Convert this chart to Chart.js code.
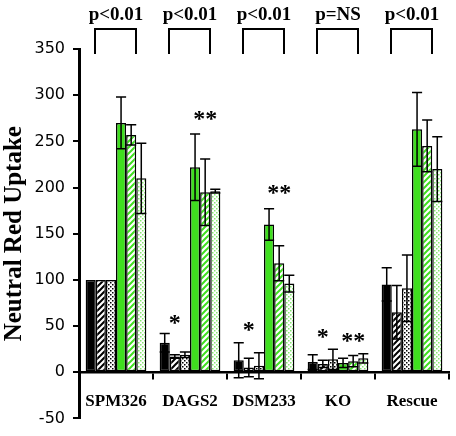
<!DOCTYPE html>
<html>
<head>
<meta charset="utf-8">
<script src="https://cdn.jsdelivr.net/npm/chart.js@4.4.0/dist/chart.umd.min.js"></script>
<style>
    html, body { margin: 0; padding: 0; background: #fff; }
    canvas { display: block; }
</style>
</head>
<body>
<canvas id="uptakeChart" width="456" height="436"></canvas>
<script>
// Data
const groups = ['SPM326', 'DAGS2', 'DSM233', 'KO', 'Rescue'];
const pLabels = ['p<0.01', 'p<0.01', 'p<0.01', 'p=NS', 'p<0.01'];

const blackSolid = [100, 32, 13, 11, 95];
const blackSolidErr = [0, 10, 19, 8, 18];
const blackHatch = [100, 17, 5, 9, 65];
const blackHatchErr = [0, 2, 10, 4, 29];
const blackDots = [100, 19, 7, 14, 91];
const blackDotsErr = [0, 3, 14, 11, 36];
const greenSolid = [270, 222, 160, 10, 263];
const greenSolidErr = [28, 36, 17, 5, 40];
const greenHatch = [257, 195, 118, 12, 245];
const greenHatchErr = [11, 36, 19, 6, 28];
const greenDots = [210, 196, 96, 15, 220];
const greenDotsErr = [38, 2, 9, 5, 35];

// significance stars: group index, bar index, text, value where drawn
const starGroup = [1, 1, 2, 2, 3, 3];
const starBar = [1.0, 4.0, 1.0, 4.0, 1.0, 4.0];
const starText = ['*', '**', '*', '**', '*', '**'];
const starValue = [57, 278, 49, 197, 42, 37];

const GREEN = '#3fdf1f';

// Fill patterns
function hatchPattern(color) {
    const c = document.createElement('canvas');
    c.width = 6; c.height = 6;
    const g = c.getContext('2d');
    g.fillStyle = '#fff';
    g.fillRect(0, 0, 6, 6);
    g.strokeStyle = color;
    g.lineWidth = 2;
    g.beginPath();
    g.moveTo(0, 6); g.lineTo(6, 0);
    g.moveTo(-3, 3); g.lineTo(3, -3);
    g.moveTo(3, 9); g.lineTo(9, 3);
    g.stroke();
    return g.createPattern(c, 'repeat');
}

function dotPattern(color) {
    const c = document.createElement('canvas');
    c.width = 4; c.height = 4;
    const g = c.getContext('2d');
    g.fillStyle = '#fff';
    g.fillRect(0, 0, 4, 4);
    g.fillStyle = color;
    g.fillRect(0, 0, 1.5, 1.5);
    g.fillRect(2, 2, 1.5, 1.5);
    return g.createPattern(c, 'repeat');
}

const series = [
    { data: blackSolid, err: blackSolidErr, fill: '#000' },
    { data: blackHatch, err: blackHatchErr, fill: hatchPattern('#000') },
    { data: blackDots, err: blackDotsErr, fill: dotPattern('#000') },
    { data: greenSolid, err: greenSolidErr, fill: GREEN },
    { data: greenHatch, err: greenHatchErr, fill: hatchPattern(GREEN) },
    { data: greenDots, err: greenDotsErr, fill: dotPattern('#86e870') }
];

// Error bars, stars, brackets and p-values
const annotations = {
    id: 'annotations',
    afterDatasetsDraw(chart) {
        const ctx = chart.ctx;
        const y = chart.scales.y;
        const x = chart.scales.x;
        ctx.save();
        ctx.strokeStyle = '#000';
        ctx.lineWidth = 1.5;

        series.forEach((s, i) => {
            const meta = chart.getDatasetMeta(i);
            meta.data.forEach((bar, j) => {
                const e = s.err[j];
                if (!e) return;
                const v = s.data[j];
                const top = y.getPixelForValue(v + e);
                const bot = y.getPixelForValue(v - e);
                const half = bar.width / 2;
                ctx.beginPath();
                ctx.moveTo(bar.x, top);
                ctx.lineTo(bar.x, bot);
                ctx.moveTo(bar.x - half, top);
                ctx.lineTo(bar.x + half, top);
                ctx.moveTo(bar.x - half, bot);
                ctx.lineTo(bar.x + half, bot);
                ctx.stroke();
            });
        });

        // stars
        ctx.fillStyle = '#000';
        ctx.font = 'bold 24px "Liberation Serif"';
        ctx.textAlign = 'center';
        ctx.textBaseline = 'middle';
        starText.forEach((t, k) => {
            const b = starBar[k];
            const meta = chart.getDatasetMeta(Math.floor(b));
            const bar = meta.data[starGroup[k]];
            const sx = bar.x + (b % 1) * bar.width;
            ctx.fillText(t, sx, y.getPixelForValue(starValue[k]) + 4);
        });

        // brackets and p-values
        const top = chart.chartArea.top;
        ctx.lineWidth = 2;
        ctx.font = 'bold 19px "Liberation Serif"';
        ctx.textBaseline = 'alphabetic';
        groups.forEach((g, i) => {
            const cx = x.getPixelForValue(i) - 1;
            ctx.beginPath();
            ctx.moveTo(cx - 20, top + 5);
            ctx.lineTo(cx - 20, top - 20);
            ctx.lineTo(cx + 21, top - 20);
            ctx.lineTo(cx + 21, top + 5);
            ctx.stroke();
            ctx.fillText(pLabels[i], cx + 1, top - 29);
        });
        ctx.restore();
    }
};

const ctx = document.getElementById('uptakeChart').getContext('2d');
const uptakeChart = new Chart(ctx, {
    type: 'bar',
    data: {
        labels: groups,
        datasets: series.map(s => ({
            data: s.data,
            backgroundColor: s.fill,
            borderColor: '#000',
            borderWidth: 1.5,
            borderSkipped: false,
            categoryPercentage: 0.82,
            barPercentage: 1.0
        }))
    },
    options: {
        responsive: false,
        animation: false,
        layout: { padding: { top: 49, right: 7, bottom: 15, left: 0 } },
        plugins: {
            legend: { display: false },
            tooltip: { enabled: false }
        },
        scales: {
            x: {
                position: { y: 0 },
                afterFit: (scale) => { scale.height = 0; },
                grid: {
                    drawOnChartArea: false,
                    drawTicks: true,
                    tickLength: 6,
                    color: '#000',
                    lineWidth: 2
                },
                border: { display: true, color: '#000', width: 2.5 },
                ticks: {
                    color: '#000',
                    padding: 13,
                    font: { family: '"Liberation Serif"', size: 17, weight: 'bold' }
                }
            },
            y: {
                min: -50,
                max: 350,
                afterFit: (scale) => { scale.width = 79; },
                grid: {
                    drawOnChartArea: false,
                    drawTicks: true,
                    tickLength: 6,
                    color: '#000',
                    lineWidth: 2
                },
                border: { display: true, color: '#000', width: 3 },
                ticks: {
                    stepSize: 50,
                    color: '#000',
                    padding: 8,
                    font: { family: '"DejaVu Sans"', size: 16 }
                },
                title: {
                    display: true,
                    text: 'Neutral Red Uptake',
                    color: '#000',
                    padding: 0,
                    font: { family: '"Liberation Serif"', size: 25, weight: 'bold' }
                }
            }
        }
    },
    plugins: [annotations]
});
</script>
</body>
</html>
